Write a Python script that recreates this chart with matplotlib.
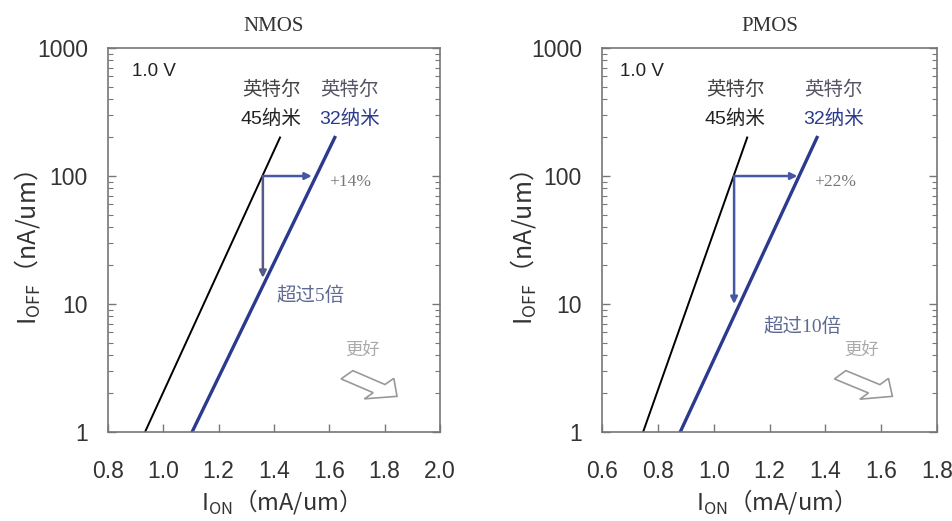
import matplotlib
matplotlib.use("Agg")
import matplotlib.pyplot as plt
from matplotlib.patches import FancyArrow
from matplotlib.ticker import LogLocator, NullFormatter, FixedLocator

plt.rcParams["font.family"] = ["Liberation Sans", "Noto Sans CJK SC"]
plt.rcParams["mathtext.fontset"] = "custom"
plt.rcParams["mathtext.rm"] = "Noto Sans CJK SC"

# ── Data ──────────────────────────────────────────────────────────────────
panels = ["NMOS", "PMOS"]
x_limits = [(0.8, 2.0), (0.6, 1.8)]
x_ticks = [[0.8, 1.0, 1.2, 1.4, 1.6, 1.8, 2.0],
           [0.6, 0.8, 1.0, 1.2, 1.4, 1.6, 1.8]]
y_ticks = [1, 10, 100, 1000]
y_tick_labels = ["1", "10", "100", "1000"]

# 45 nm / 32 nm trend lines: (Ion at Ioff=1, Ion at Ioff=200)
ioff_ends = [1, 200]
ion_45 = [[0.934, 1.422], [0.747, 1.120]]
ion_32 = [[1.104, 1.620], [0.880, 1.370]]

# arrows: start Ion at 100 nA/um, Ion gain end, Ioff end of vertical arrow
arrow_ion_start = [1.36, 1.073]
arrow_ion_end = [1.537, 1.30]
arrow_ioff_end = [16, 10]
gain_labels = ["+14%", "+22%"]
gain_pos = [(1.675, 90), (1.435, 90)]
leak_labels = ["超过5倍", "超过10倍"]
leak_pos = [(1.41, 11.7), (1.18, 6.6)]

node_company = "英特尔"
node_45 = "45纳米"
node_32 = "32纳米"
label_45_x = [1.39, 1.077]
label_32_x = [1.675, 1.43]
volt_x = [0.071, 0.054]

better_pos = [(1.72, 4.4), (1.53, 4.4)]
better_arrow = [((1.664, 2.8), (1.845, 1.9)), ((1.453, 2.8), (1.64, 1.9))]

BLUE = "#2b3a8f"
ARROW = "#4657a6"
GRAY = "#777777"

fig = plt.figure(figsize=(9.52, 5.21), dpi=100)
positions = [[0.1134, 0.1708, 0.3487, 0.737],
             [0.6324, 0.1708, 0.3519, 0.737]]
ylabel_x = [0.028, 0.549]

for i, name in enumerate(panels):
    ax = fig.add_axes(positions[i])
    ax.set_yscale("log")
    ax.set_xlim(*x_limits[i])
    ax.set_ylim(1, 1000)

    ax.plot(ion_45[i], ioff_ends, color="black", lw=1.4)
    ax.plot(ion_32[i], ioff_ends, color=BLUE, lw=2.4)

    # Ion gain arrow and leakage reduction arrow
    ax.annotate("", xy=(arrow_ion_end[i], 100), xytext=(arrow_ion_start[i], 100),
                arrowprops=dict(arrowstyle="-|>", color=ARROW, lw=1.8,
                                mutation_scale=10, shrinkA=0, shrinkB=0))
    ax.annotate("", xy=(arrow_ion_start[i], arrow_ioff_end[i]),
                xytext=(arrow_ion_start[i], 100),
                arrowprops=dict(arrowstyle="-|>", color=ARROW if i else "#555b86",
                                lw=1.8, mutation_scale=10, shrinkA=0, shrinkB=0))

    ax.text(*gain_pos[i], gain_labels[i], color="#777777", fontsize=12.5,
            family="Liberation Serif", ha="center", va="center")
    ax.text(*leak_pos[i], leak_labels[i], color="#5f6a92", fontsize=14,
            family=["Liberation Serif", "Noto Sans CJK SC"],
            ha="left", va="center")

    ax.text(label_45_x[i], 470, node_company, color="#444444", fontsize=14,
            ha="center", va="center")
    ax.text(label_45_x[i], 282, node_45, color="#222222", fontsize=14,
            ha="center", va="center")
    ax.text(label_32_x[i], 470, node_company, color="#555566", fontsize=14,
            ha="center", va="center")
    ax.text(label_32_x[i], 282, node_32, color=BLUE, fontsize=14,
            ha="center", va="center")
    ax.text(volt_x[i], 0.94, "1.0 V", transform=ax.transAxes, fontsize=13.5,
            color="#222222", ha="left", va="center")

    # "better" hint with hollow arrow
    ax.text(*better_pos[i], "更好", color="#aaaaaa", fontsize=12.5,
            family="Noto Sans CJK SC", ha="center", va="center")
    (x0, y0), (x1, y1) = better_arrow[i]
    inv = fig.transFigure.inverted()
    f0 = inv.transform(ax.transData.transform((x0, y0)))
    f1 = inv.transform(ax.transData.transform((x1, y1)))
    fig.patches.append(FancyArrow(f0[0], f0[1], f1[0] - f0[0], f1[1] - f0[1],
                                  width=0.02, head_width=0.05, head_length=0.024,
                                  length_includes_head=True, facecolor="white",
                                  edgecolor="#999999", lw=1.2,
                                  transform=fig.transFigure))

    ax.set_xticks(x_ticks[i])
    ax.set_xticklabels([f"{v:.1f}" for v in x_ticks[i]])
    ax.yaxis.set_major_locator(FixedLocator(y_ticks))
    ax.set_yticklabels(y_tick_labels)
    ax.yaxis.set_minor_locator(LogLocator(base=10, subs=range(2, 10)))
    ax.yaxis.set_minor_formatter(NullFormatter())
    ax.tick_params(axis="both", which="major", direction="in", labelsize=16.5,
                   color=GRAY, length=6, width=1)
    ax.tick_params(axis="y", which="both", right=True, direction="in", color=GRAY)
    ax.tick_params(axis="y", which="minor", length=3.5, width=0.8)
    ax.tick_params(axis="y", which="major", pad=14.5)
    ax.tick_params(axis="x", which="major", pad=20)
    for lbl in ax.get_xticklabels() + ax.get_yticklabels():
        lbl.set_color("#333333")
    for s in ax.spines.values():
        s.set_color(GRAY)
        s.set_linewidth(1.2)

    ax.set_title(name, family="Liberation Serif", fontsize=15, color="#333333", pad=12)
    ax.set_xlabel(r"I$_{\mathrm{ON}}$（mA/um）", fontsize=17, color="#333333",
                  family="Noto Sans CJK SC", labelpad=3)
    fig.text(ylabel_x[i], 0.524, r"I$_{\mathrm{OFF}}$（nA/um）", rotation=90,
             fontsize=18, color="#333333", family="Noto Sans CJK SC",
             ha="center", va="center")

fig.savefig("out.png", dpi=100)
